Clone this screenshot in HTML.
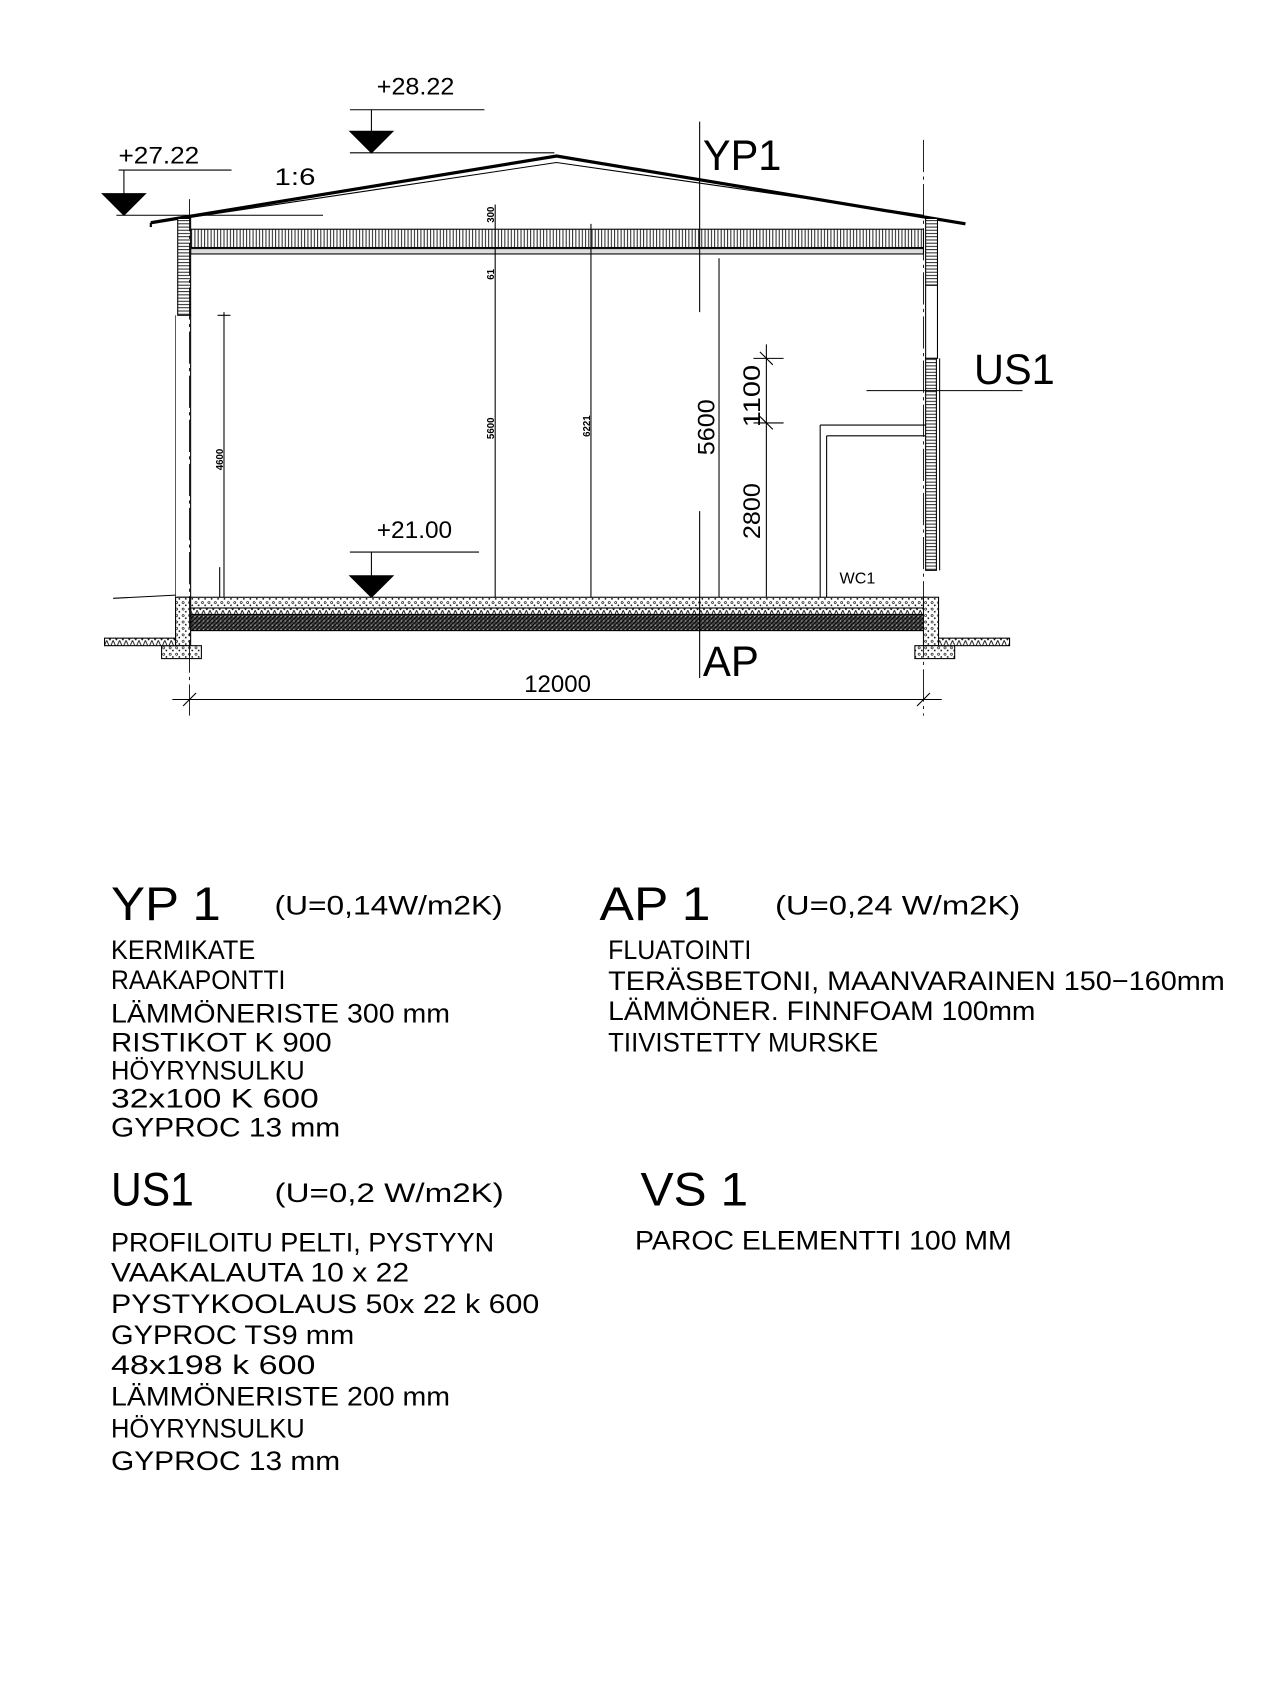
<!DOCTYPE html>
<html><head><meta charset="utf-8"><style>html,body{margin:0;padding:0;background:#fff}svg{display:block}</style></head><body>
<svg width="1268" height="1682" viewBox="0 0 1178 1563" xmlns="http://www.w3.org/2000/svg" font-family="'Liberation Sans', sans-serif" fill="#000">
<defs>
<pattern id="vl" width="3" height="10" patternUnits="userSpaceOnUse"><rect width="3" height="10" fill="#fff"/><line x1="1" y1="0" x2="1" y2="10" stroke="#000" stroke-width="0.8"/></pattern>
<pattern id="hl" width="10" height="3" patternUnits="userSpaceOnUse"><rect width="10" height="3" fill="#fff"/><line x1="0" y1="1" x2="10" y2="1" stroke="#000" stroke-width="0.8"/></pattern>
<pattern id="dots" width="6" height="6" patternUnits="userSpaceOnUse"><rect width="6" height="6" fill="#fff"/><circle cx="2" cy="2" r="1" fill="none" stroke="#000" stroke-width="0.6"/><circle cx="4.5" cy="4.5" r="0.8" fill="#000"/></pattern>
<pattern id="dense" width="4" height="4" patternUnits="userSpaceOnUse"><rect width="4" height="4" fill="#444"/><path d="M0 4L4 0" stroke="#000" stroke-width="1"/><circle cx="1" cy="1" r="0.6" fill="#bbb"/></pattern>
<pattern id="zig" width="6" height="7" patternUnits="userSpaceOnUse"><rect width="6" height="7" fill="#fff"/><path d="M0 7L3 0L6 7" fill="none" stroke="#000" stroke-width="0.8"/></pattern>
</defs>
<g stroke="#000" fill="none" stroke-width="1">
<line x1="325" y1="102" x2="450" y2="102"/><line x1="345" y1="102" x2="345" y2="124"/>
<polygon points="325,122 365,122 345,142" fill="#000"/>
<line x1="325" y1="142" x2="515" y2="142"/>
<line x1="110" y1="158" x2="215" y2="158"/><line x1="115" y1="158" x2="115" y2="182"/>
<polygon points="95,180 135,180 115,200" fill="#000"/>
<line x1="108" y1="200" x2="300" y2="200"/>
<line x1="325" y1="513" x2="445" y2="513"/><line x1="345" y1="513" x2="345" y2="537"/>
<polygon points="325,535 365,535 345,555" fill="#000"/>
<polyline points="140,207 517,145 897,208" stroke-width="3"/>
<polyline points="170,203 517,151 858,200"/>
<line x1="140" y1="207" x2="140" y2="211" stroke-width="2"/>
<rect x="177" y="213" width="681" height="17" fill="url(#vl)"/>
<rect x="177" y="231" width="681" height="5" fill="#ddd"/>
<rect x="165" y="203" width="12" height="90" fill="url(#hl)"/>
<line x1="177" y1="293" x2="177" y2="555"/><line x1="163" y1="293" x2="163" y2="555" stroke-width="0.6"/>
<line x1="105" y1="556" x2="163" y2="553"/>
<rect x="860" y="203" width="11" height="62" fill="url(#hl)"/>
<rect x="860" y="265" width="11" height="68"/>
<rect x="860" y="333" width="10" height="197" fill="url(#hl)"/>
<line x1="873" y1="333" x2="873" y2="530"/>
<rect x="165" y="555" width="695" height="10" fill="url(#dots)"/>
<rect x="177" y="565" width="683" height="6" fill="url(#zig)"/>
<rect x="177" y="571" width="683" height="15" fill="url(#dense)"/>
<rect x="163" y="555" width="14" height="45" fill="url(#dots)"/>
<rect x="858" y="555" width="14" height="45" fill="url(#dots)"/>
<rect x="150" y="600" width="37" height="12" fill="url(#dots)"/>
<rect x="850" y="600" width="37" height="12" fill="url(#dots)"/>
<rect x="97" y="593" width="66" height="7" fill="url(#zig)"/>
<rect x="872" y="593" width="66" height="7" fill="url(#zig)"/>
<line x1="762" y1="395" x2="860" y2="395"/><line x1="768" y1="405" x2="860" y2="405"/>
<line x1="762" y1="395" x2="762" y2="555"/><line x1="768" y1="405" x2="768" y2="555"/>
<line x1="208" y1="290" x2="208" y2="555"/><line x1="202" y1="293" x2="214" y2="293"/>
<line x1="204" y1="527" x2="204" y2="555"/>
<line x1="460" y1="190" x2="460" y2="555"/>
<line x1="549" y1="208" x2="549" y2="555"/>
<line x1="668" y1="240" x2="668" y2="555"/>
<line x1="712" y1="320" x2="712" y2="555"/>
<line x1="700" y1="333" x2="728" y2="333"/><line x1="700" y1="393" x2="728" y2="393"/>
<line x1="706" y1="327" x2="718" y2="339"/><line x1="706" y1="387" x2="718" y2="399"/>
<line x1="650" y1="113" x2="650" y2="290"/>
<line x1="650" y1="475" x2="650" y2="630"/>
<line x1="805" y1="363" x2="950" y2="363"/>
<line x1="160" y1="650" x2="875" y2="650"/>
<line x1="176" y1="185" x2="176" y2="665" stroke-dasharray="30,4,3,4" stroke-width="0.8"/>
<line x1="858" y1="130" x2="858" y2="665" stroke-dasharray="30,4,3,4" stroke-width="0.8"/>
<line x1="170" y1="656" x2="182" y2="644"/><line x1="852" y1="656" x2="864" y2="644"/>
</g>
<g font-size="22">
<text x="350" y="88" textLength="72" lengthAdjust="spacingAndGlyphs">+28.22</text>
<text x="110" y="152" textLength="75" lengthAdjust="spacingAndGlyphs">+27.22</text>
<text x="255" y="172" textLength="38" lengthAdjust="spacingAndGlyphs">1:6</text>
<text x="350" y="500" textLength="70" lengthAdjust="spacingAndGlyphs">+21.00</text>
<text x="487" y="643" textLength="62" lengthAdjust="spacingAndGlyphs">12000</text>
<text x="653" y="158" font-size="40" textLength="73" lengthAdjust="spacingAndGlyphs">YP1</text>
<text x="653" y="628" font-size="40" textLength="52" lengthAdjust="spacingAndGlyphs">AP</text>
<text x="905" y="357" font-size="40" textLength="75" lengthAdjust="spacingAndGlyphs">US1</text>
<text x="780" y="542" font-size="15">WC1</text>
<text transform="translate(664,423) rotate(-90)" textLength="52" lengthAdjust="spacingAndGlyphs">5600</text>
<text transform="translate(706,397) rotate(-90)" textLength="58" lengthAdjust="spacingAndGlyphs">1100</text>
<text transform="translate(706,501) rotate(-90)" textLength="52" lengthAdjust="spacingAndGlyphs">2800</text>
</g>
<g font-size="9" font-weight="bold">
<text transform="translate(207,437) rotate(-90)">4600</text>
<text transform="translate(459,207) rotate(-90)">300</text>
<text transform="translate(459,260) rotate(-90)">61</text>
<text transform="translate(459,408) rotate(-90)">5600</text>
<text transform="translate(548,406) rotate(-90)">6221</text>
</g>
<g font-size="25">
<text x="103" y="855" font-size="44" textLength="102" lengthAdjust="spacingAndGlyphs">YP 1</text>
<text x="255" y="850" textLength="212" lengthAdjust="spacingAndGlyphs">(U=0,14W/m2K)</text>
<text x="557" y="855" font-size="44" textLength="103" lengthAdjust="spacingAndGlyphs">AP 1</text>
<text x="720" y="850" textLength="228" lengthAdjust="spacingAndGlyphs">(U=0,24 W/m2K)</text>
<text x="103" y="891" textLength="134" lengthAdjust="spacingAndGlyphs">KERMIKATE</text>
<text x="103" y="919" textLength="162" lengthAdjust="spacingAndGlyphs">RAAKAPONTTI</text>
<text x="103" y="950" textLength="315" lengthAdjust="spacingAndGlyphs">LÄMMÖNERISTE 300 mm</text>
<text x="103" y="977" textLength="205" lengthAdjust="spacingAndGlyphs">RISTIKOT K 900</text>
<text x="103" y="1003" textLength="180" lengthAdjust="spacingAndGlyphs">HÖYRYNSULKU</text>
<text x="103" y="1029" textLength="193" lengthAdjust="spacingAndGlyphs">32x100 K 600</text>
<text x="103" y="1056" textLength="213" lengthAdjust="spacingAndGlyphs">GYPROC 13 mm</text>
<text x="565" y="891" textLength="133" lengthAdjust="spacingAndGlyphs">FLUATOINTI</text>
<text x="565" y="920" textLength="573" lengthAdjust="spacingAndGlyphs">TERÄSBETONI, MAANVARAINEN   150−160mm</text>
<text x="565" y="948" textLength="397" lengthAdjust="spacingAndGlyphs">LÄMMÖNER. FINNFOAM 100mm</text>
<text x="565" y="977" textLength="251" lengthAdjust="spacingAndGlyphs">TIIVISTETTY MURSKE</text>
<text x="103" y="1120" font-size="44" textLength="77" lengthAdjust="spacingAndGlyphs">US1</text>
<text x="255" y="1117" textLength="213" lengthAdjust="spacingAndGlyphs">(U=0,2 W/m2K)</text>
<text x="595" y="1120" font-size="44" textLength="100" lengthAdjust="spacingAndGlyphs">VS 1</text>
<text x="590" y="1161" textLength="350" lengthAdjust="spacingAndGlyphs">PAROC ELEMENTTI 100 MM</text>
<text x="103" y="1163" textLength="356" lengthAdjust="spacingAndGlyphs">PROFILOITU PELTI, PYSTYYN</text>
<text x="103" y="1191" textLength="277" lengthAdjust="spacingAndGlyphs">VAAKALAUTA 10 x 22</text>
<text x="103" y="1220" textLength="398" lengthAdjust="spacingAndGlyphs">PYSTYKOOLAUS 50x 22 k 600</text>
<text x="103" y="1249" textLength="226" lengthAdjust="spacingAndGlyphs">GYPROC TS9 mm</text>
<text x="103" y="1277" textLength="190" lengthAdjust="spacingAndGlyphs">48x198 k 600</text>
<text x="103" y="1306" textLength="315" lengthAdjust="spacingAndGlyphs">LÄMMÖNERISTE 200 mm</text>
<text x="103" y="1336" textLength="180" lengthAdjust="spacingAndGlyphs">HÖYRYNSULKU</text>
<text x="103" y="1366" textLength="213" lengthAdjust="spacingAndGlyphs">GYPROC 13 mm</text>
</g>
</svg>
</body></html>
